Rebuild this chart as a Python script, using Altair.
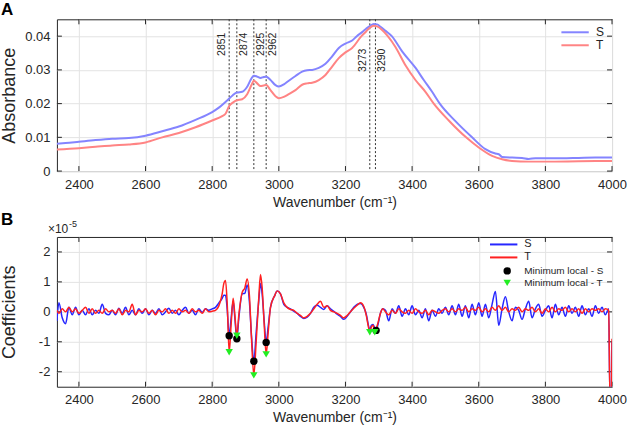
import altair as alt
import pandas as pd

FONT = "Liberation Sans"
INK = "#262626"

# ---------------- Panel A : absorbance spectra ----------------
wn_abs_s = [2334, 2360, 2400, 2450, 2500, 2550, 2600, 2650, 2700, 2750, 2800, 2820, 2840, 2851,
            2862, 2874, 2890, 2905, 2918, 2925, 2935, 2945, 2955, 2962, 2975, 2990, 3000, 3015,
            3030, 3050, 3070, 3085, 3100, 3120, 3140, 3160, 3180, 3200, 3220, 3234, 3250, 3262,
            3273, 3285, 3295, 3305, 3320, 3339, 3370, 3411, 3435, 3460, 3483, 3530, 3580, 3620,
            3650, 3660, 3670, 3700, 3730, 3750, 3770, 3800, 3850, 3900, 3950, 4000]
abs_s = [0.0081, 0.0083, 0.0087, 0.0092, 0.0096, 0.0098, 0.0105, 0.0118, 0.0132, 0.0152, 0.0175,
         0.0188, 0.0205, 0.0215, 0.0225, 0.0233, 0.0235, 0.0250, 0.0275, 0.0283, 0.0280, 0.0276,
         0.0279, 0.0280, 0.0270, 0.0255, 0.0251, 0.0257, 0.0268, 0.0282, 0.0295, 0.0299, 0.0300,
         0.0306, 0.0318, 0.0340, 0.0365, 0.0378, 0.0387, 0.0400, 0.0412, 0.0422, 0.0430, 0.0436,
         0.0435, 0.0428, 0.0416, 0.0400, 0.0355, 0.0305, 0.0270, 0.0235, 0.0200, 0.0148, 0.0100,
         0.0065, 0.0052, 0.0050, 0.0042, 0.0040, 0.0039, 0.0036, 0.0038, 0.0038, 0.0038, 0.0039,
         0.0040, 0.0040]

wn_abs_t = [2334, 2400, 2450, 2500, 2550, 2600, 2650, 2700, 2750, 2800, 2830, 2840, 2851, 2862,
            2874, 2890, 2905, 2918, 2925, 2935, 2945, 2955, 2962, 2975, 2990, 3000, 3015, 3030,
            3050, 3070, 3085, 3100, 3120, 3140, 3160, 3180, 3200, 3220, 3248, 3262, 3273, 3285,
            3295, 3310, 3327, 3350, 3381, 3410, 3440, 3465, 3510, 3562, 3600, 3640, 3670, 3700,
            3750, 3800, 3900, 4000]
abs_t = [0.0064, 0.0068, 0.0072, 0.0076, 0.0079, 0.0085, 0.0100, 0.0113, 0.0130, 0.0150, 0.0163,
         0.0170, 0.0193, 0.0203, 0.0210, 0.0213, 0.0228, 0.0255, 0.0268, 0.0260, 0.0252, 0.0254,
         0.0255, 0.0240, 0.0222, 0.0216, 0.0220, 0.0228, 0.0240, 0.0256, 0.0260, 0.0262, 0.0270,
         0.0285, 0.0310, 0.0335, 0.0352, 0.0365, 0.0400, 0.0414, 0.0425, 0.0431, 0.0429, 0.0418,
         0.0400, 0.0368, 0.0312, 0.0270, 0.0235, 0.0200, 0.0150, 0.0100, 0.0070, 0.0045, 0.0035,
         0.0030, 0.0028, 0.0028, 0.0029, 0.0030]

peaks_label_left_hi = [2851]
peaks_label_right_hi = [2874, 2925, 2962]
peaks_label_left_lo = [3273]
peaks_label_right_lo = [3290]
peaks_all = [2851, 2874, 2925, 2962, 3273, 3290]

# ---------------- Panel B : coefficients (x 1e-5) ----------------
wn_c1 = [2334] + list(range(2340, 2801, 10))
coef_s1 = [-0.3, 0.3, -0.2, -0.4, 0.15, -0.1, 0.15, -0.1, 0.05, -0.1, 0.1, -0.1, 0.05, -0.05, 0.25,
           -0.05, -0.1, 0.05, -0.1, 0.12, -0.05, 0.15, -0.1, 0.05, -0.1, 0.1, -0.05, 0.1, -0.1, 0.05,
           -0.05, 0.1, -0.1, 0.0, 0.12, -0.05, 0.05, -0.1, 0.05, 0.15, -0.05, 0.05, -0.1, 0.1, -0.02,
           0.1, 0.05, 0.1]
coef_t1 = [0.05, -0.05, 0.1, 0.0, 0.15, 0.0, 0.1, -0.05, 0.05, 0.15, -0.05, 0.1, -0.05, 0.05, -0.05,
           0.1, 0.0, 0.05, -0.05, 0.1, -0.1, 0.05, 0.0, 0.25, -0.1, 0.05, 0.0, 0.1, -0.05, 0.05,
           -0.1, 0.05, 0.0, 0.1, -0.05, 0.05, -0.05, 0.1, 0.0, 0.05, -0.05, 0.1, 0.0, 0.05, -0.05,
           0.1, 0.0, 0.02]

wn_c2 = [2810, 2820, 2830, 2835, 2840, 2845, 2851, 2857, 2863, 2868, 2874, 2880, 2890, 2898, 2905,
         2912, 2918, 2925, 2932, 2940, 2945, 2950, 2956, 2962, 2968, 2975, 2988, 2995, 3005, 3015]
coef_s2 = [0.15, 0.3, 0.45, 0.55, 0.55, 0.1, -0.8, -0.2, 0.35, -0.2, -0.9, -0.2, 0.6, 0.62, 0.9,
           0.3, -0.8, -1.65, -0.7, 0.4, 0.95, 0.6, -0.3, -1.02, -0.5, 0.15, 0.55, 0.7, 0.6, 0.25]
coef_t2 = [0.05, 0.2, 0.6, 0.95, 1.05, 0.3, -1.35, -0.4, 0.45, -0.1, -0.8, -0.1, 0.65, 0.8, 1.1,
           0.5, -0.9, -2.12, -1.0, 0.5, 1.25, 0.8, -0.4, -1.42, -0.7, 0.15, 0.55, 0.7, 0.6, 0.3]

wn_c3 = [3025, 3035, 3045, 3055, 3065, 3075, 3085, 3095, 3105, 3115, 3125, 3135, 3145, 3155, 3165,
         3175, 3185, 3195, 3205, 3215, 3225, 3235, 3245, 3255, 3263, 3268, 3273, 3278, 3283, 3288,
         3292, 3298, 3305, 3312]
coef_s3 = [0.15, 0.1, 0.02, -0.05, -0.15, -0.22, -0.18, -0.05, 0.15, 0.22, 0.15, 0.08, 0.2, 0.1,
           0.02, -0.08, -0.15, -0.25, -0.15, 0.0, 0.15, 0.25, 0.28, 0.15, -0.1, -0.4, -0.6, -0.45,
           -0.42, -0.55, -0.62, -0.4, -0.05, 0.1]
coef_t3 = [0.15, 0.08, 0.05, -0.05, -0.12, -0.2, -0.15, -0.05, 0.1, 0.25, 0.35, 0.15, 0.2, 0.05,
           0.0, -0.05, -0.12, -0.2, -0.12, 0.0, 0.12, 0.22, 0.3, 0.18, -0.15, -0.45, -0.68, -0.5,
           -0.45, -0.68, -0.58, -0.35, -0.05, 0.1]

wn_c4 = list(range(3320, 3991, 10)) + [3994, 3998, 4000]
coef_s4 = [0.05, -0.3, 0.1, -0.05, 0.2, -0.15, 0.1, -0.1, 0.2, -0.1, 0.05, -0.2, 0.1, -0.3, 0.05,
           -0.15, 0.1, -0.05, 0.15, -0.1, 0.2, -0.1, 0.25, -0.15, 0.2, -0.2, 0.25, -0.1, 0.3, -0.15,
           0.25, -0.2, 0.25, 0.68, -0.45, 0.1, 0.5, 0.0, -0.3, 0.15, 0.05, -0.25, 0.1, 0.35, -0.2,
           0.1, 0.25, -0.15, 0.05, 0.2, -0.2, 0.25, -0.1, 0.15, -0.15, 0.2, -0.05, 0.15, -0.15, 0.2,
           -0.1, 0.1, -0.15, 0.2, -0.05, 0.15, -0.1, 0.1, -3.0, -3.0, -1.0]
coef_t4 = [0.0, -0.1, 0.05, -0.05, 0.1, 0.0, -0.05, 0.05, -0.05, 0.1, 0.0, -0.05, 0.05, -0.1, 0.05,
           0.0, -0.05, 0.05, 0.1, 0.0, 0.1, 0.0, 0.1, 0.05, 0.15, 0.0, 0.1, 0.05, 0.15, 0.0,
           0.1, 0.0, 0.15, 0.05, 0.2, 0.05, 0.15, 0.0, 0.1, 0.05, 0.15, 0.0, 0.1, 0.05, 0.15,
           0.0, 0.1, -0.05, 0.1, 0.0, 0.15, 0.0, 0.1, 0.05, 0.15, 0.0, 0.1, 0.0, 0.1, -0.05,
           0.1, 0.0, 0.1, 0.05, 0.1, 0.0, 0.1, 0.05, -3.0, -3.0, -0.9]

min_s_wn = [2851, 2874, 2925, 2962, 3292]
min_s_val = [-0.8, -0.9, -1.65, -1.02, -0.62]
min_t_wn = [2851, 2874, 2925, 2962, 3273, 3288]
min_t_val = [-1.35, -0.8, -2.12, -1.42, -0.68, -0.68]

x_ticks = [2400, 2600, 2800, 3000, 3200, 3400, 3600, 3800, 4000]
yA_ticks = [0, 0.01, 0.02, 0.03, 0.04]
yB_ticks = [-2, -1, 0, 1, 2]
x_domain = [2334, 4000]
series_names = ["S", "T"]
min_names = ["Minimum local - S", "Minimum local - T"]

W = 556
HA = 152
HB = 150
TICK = 5

# ---------------- tables ----------------
wn_c = wn_c1 + wn_c2 + wn_c3 + wn_c4
coef_s = coef_s1 + coef_s2 + coef_s3 + coef_s4
coef_t = coef_t1 + coef_t2 + coef_t3 + coef_t4

dfA = pd.DataFrame({
    "wn": wn_abs_s + wn_abs_t,
    "val": abs_s + abs_t,
    "series": ["S"] * len(wn_abs_s) + ["T"] * len(wn_abs_t),
})
dfB = pd.DataFrame({
    "wn": wn_c + wn_c,
    "val": coef_s + coef_t,
    "series": ["S"] * len(wn_c) + ["T"] * len(wn_c),
})
dfMin = pd.DataFrame({
    "wn": min_s_wn + min_t_wn,
    "val": min_s_val + min_t_val,
    "kind": [min_names[0]] * len(min_s_wn) + [min_names[1]] * len(min_t_wn),
})


def x_enc():
    return alt.X("wn:Q", scale=alt.Scale(domain=x_domain, nice=False, zero=False),
                 axis=alt.Axis(values=x_ticks, title="Wavenumber (cm⁻¹)", grid=True, ticks=False,
                               domain=False, labelFontSize=13, titleFontSize=14, format="d",
                               labelPadding=7, titlePadding=4, labelColor=INK, titleColor=INK,
                               titleFontWeight="normal", gridColor="#e3e3e3", labelFlush=False))


def y_axis(title, values, **kw):
    return alt.Axis(values=values, title=title, grid=True, ticks=False, domain=False,
                    labelFontSize=13, titleFontSize=18, labelPadding=7, titlePadding=4,
                    labelColor=INK, titleColor=INK, titleFontWeight="normal",
                    gridColor="#e3e3e3", minExtent=34, maxExtent=34, **kw)


def line_legend(x, y, fs):
    return alt.Legend(title=None, orient="none", legendX=x, legendY=y, symbolType="M-5,0H5",
                      symbolSize=30, symbolStrokeWidth=2, labelOffset=15, labelFontSize=fs,
                      labelColor=INK, padding=0, rowPadding=1)


def inner_ticks(y_enc, y_vals, h):
    """MATLAB-style inward tick marks on all four sides of the frame."""
    xt = pd.DataFrame({"wn": x_ticks})
    yt = pd.DataFrame({"val": y_vals})
    base_x = alt.Chart(xt).mark_rule(color=INK, strokeWidth=1)
    base_y = alt.Chart(yt).mark_rule(color=INK, strokeWidth=1)
    return [
        base_x.encode(x=x_enc(), y=alt.value(h), y2=alt.value(h - TICK)),
        base_x.encode(x=x_enc(), y=alt.value(0), y2=alt.value(TICK)),
        base_y.encode(y=y_enc, x=alt.value(0), x2=alt.value(TICK)),
        base_y.encode(y=y_enc, x=alt.value(W), x2=alt.value(W - TICK)),
    ]


# ---------------- Panel A ----------------
yA = alt.Y("val:Q", scale=alt.Scale(domain=[0, 0.045], nice=False),
           axis=y_axis("Absorbance", yA_ticks, format=".2~f"))

rulesA = alt.Chart(pd.DataFrame({"wn": peaks_all})).mark_rule(
    strokeDash=[2, 2], color="#333333", strokeWidth=1).encode(x=x_enc())

linesA = alt.Chart(dfA).mark_line(strokeWidth=2, clip=True, interpolate="monotone").encode(
    x=x_enc(), y=yA,
    stroke=alt.Stroke("series:N", scale=alt.Scale(domain=series_names, range=["#8484ff", "#ff8484"]),
                      legend=line_legend(513, 7, 12)))


def peak_text(vals, ypix, dy):
    return alt.Chart(pd.DataFrame({"wn": vals})).mark_text(
        angle=270, fontSize=10.5, color=INK, align="center", baseline="middle", dy=dy).encode(
        x=x_enc(), y=alt.value(ypix), text=alt.Text("wn:Q", format="d"))


def panel_letter(letter, ypix):
    return alt.Chart(pd.DataFrame({"t": [letter]})).mark_text(
        fontSize=17, fontWeight="bold", align="left", baseline="middle", color="#000000").encode(
        x=alt.value(-56), y=alt.value(ypix), text="t:N")


panelA = alt.layer(
    *inner_ticks(yA, yA_ticks, HA),
    rulesA, linesA,
    peak_text(peaks_label_left_hi, 25, -7),
    peak_text(peaks_label_right_hi, 25, 7),
    peak_text(peaks_label_left_lo, 41, -7),
    peak_text(peaks_label_right_lo, 41, 7),
    panel_letter("A", -9),
).properties(width=W, height=HA)

# ---------------- Panel B ----------------
yB = alt.Y("val:Q", scale=alt.Scale(domain=[-2.5, 2.5], nice=False),
           axis=y_axis("Coefficients", yB_ticks, labelExpr="'' + datum.value"))

linesB = alt.Chart(dfB).mark_line(strokeWidth=1.5, clip=True, interpolate="monotone").encode(
    x=x_enc(), y=yB,
    stroke=alt.Stroke("series:N", scale=alt.Scale(domain=series_names, range=["#2626ff", "#ff2020"]),
                      legend=line_legend(442, 2, 11)))

pt_legend = alt.Legend(title=None, orient="none", legendX=446, legendY=29, labelFontSize=10,
                       labelColor=INK, padding=0, rowPadding=2, symbolSize=55, labelOffset=12,
                       symbolStrokeWidth=0)
ptsB = alt.Chart(dfMin).mark_point(filled=True, size=55, opacity=1, strokeWidth=0).encode(
    x=x_enc(), y=yB,
    fill=alt.Fill("kind:N", scale=alt.Scale(domain=min_names, range=["#000000", "#22ee22"]),
                  legend=pt_legend),
    shape=alt.Shape("kind:N", scale=alt.Scale(domain=min_names, range=["circle", "triangle-down"]),
                    legend=pt_legend))

mult1 = alt.Chart(pd.DataFrame({"t": ["×10"]})).mark_text(
    fontSize=12, align="left", baseline="middle", color=INK).encode(
    x=alt.value(-9), y=alt.value(-8), text="t:N")
mult2 = alt.Chart(pd.DataFrame({"t": ["-5"]})).mark_text(
    fontSize=9, align="left", baseline="middle", color=INK).encode(
    x=alt.value(12), y=alt.value(-13), text="t:N")

panelB = alt.layer(
    *inner_ticks(yB, yB_ticks, HB),
    linesB, ptsB, mult1, mult2, panel_letter("B", -17)
).properties(width=W, height=HB)

chart = alt.vconcat(panelA, panelB, spacing=0).resolve_scale(
    stroke="independent", fill="independent", shape="independent", y="independent"
).resolve_legend(stroke="independent", fill="independent", shape="independent").properties(
    padding={"left": 0, "top": 0, "right": 0, "bottom": 0}
).configure(font=FONT).configure_view(stroke=INK, strokeWidth=1)

chart.save("out.html", embed_options={"renderer": "svg", "actions": False})
